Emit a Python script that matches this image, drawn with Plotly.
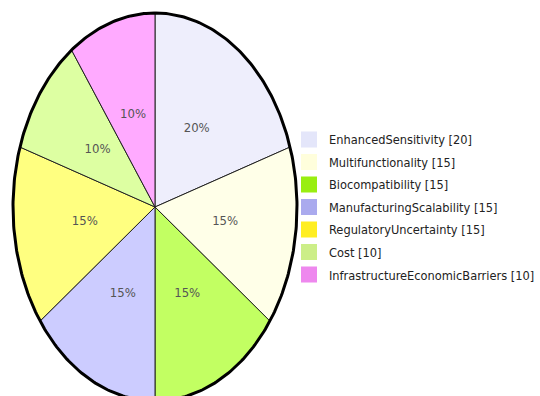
import numpy as np
import plotly.graph_objects as go

categories = ["EnhancedSensitivity", "Multifunctionality", "Biocompatibility",
              "ManufacturingScalability", "RegulatoryUncertainty", "Cost",
              "InfrastructureEconomicBarriers"]
values = [20, 15, 15, 15, 15, 10, 10]
slice_colors = ["#EEEEFC", "#FFFFE8", "#C2FF62", "#CCCCFF", "#FFFF80", "#DDFFA2", "#FFAAFF"]
swatch_colors = ["#E4E6FA", "#FFFEDC", "#99EE11", "#AAAAEE", "#FFEE22", "#CCEE88", "#EE88EE"]

FONT = "DejaVu Sans Condensed, Liberation Sans Narrow, Arial Narrow, sans-serif"

total = sum(values)
fig = go.Figure()

start = 0.0
label_x, label_y, label_t = [], [], []
for cat, v, col in zip(categories, values, slice_colors):
    frac = v / total
    a0, a1 = start * 2 * np.pi, (start + frac) * 2 * np.pi
    th = np.linspace(a0, a1, 80)
    xs = np.concatenate([[0], np.sin(th), [0]])
    ys = np.concatenate([[0], np.cos(th), [0]])
    fig.add_trace(go.Scatter(x=xs, y=ys, mode="lines", fill="toself",
                             fillcolor=col, line=dict(color="#222222", width=1),
                             showlegend=False, hoverinfo="skip"))
    mid = (a0 + a1) / 2
    label_x.append(0.5 * np.sin(mid))
    label_y.append(0.5 * np.cos(mid))
    label_t.append(f"{round(frac * 100)}%")
    start += frac

# outer outline
th = np.linspace(0, 2 * np.pi, 400)
fig.add_trace(go.Scatter(x=np.sin(th), y=np.cos(th), mode="lines",
                         line=dict(color="black", width=3),
                         showlegend=False, hoverinfo="skip"))

fig.add_trace(go.Scatter(x=label_x, y=label_y, mode="text", text=label_t,
                         textfont=dict(family=FONT, size=13, color="#555555"),
                         showlegend=False, hoverinfo="skip"))

for i, (cat, v, col) in enumerate(zip(categories, values, swatch_colors)):
    fig.add_trace(go.Scatter(x=[None], y=[None], mode="markers",
                             marker=dict(symbol="square", size=16, color=col),
                             name=f"{cat} [{v}]", legendgroup=f"g{i}"))

fig.update_xaxes(visible=False, range=[-1 - 13 / 142, 1 + 243 / 142], domain=[0, 1])
fig.update_yaxes(visible=False, range=[-1 + 5 / 194, 1 + 13 / 194], domain=[0, 1])
fig.update_layout(
    width=540, height=396,
    margin=dict(l=0, r=0, t=0, b=0),
    paper_bgcolor="white", plot_bgcolor="white",
    legend=dict(x=1.0, y=0.685, xanchor="right", yanchor="top",
                font=dict(family=FONT, size=12.7, color="#222222"),
                tracegroupgap=3, itemwidth=30, bgcolor="rgba(0,0,0,0)"),
    showlegend=True,
)
fig.write_html("out.html")
